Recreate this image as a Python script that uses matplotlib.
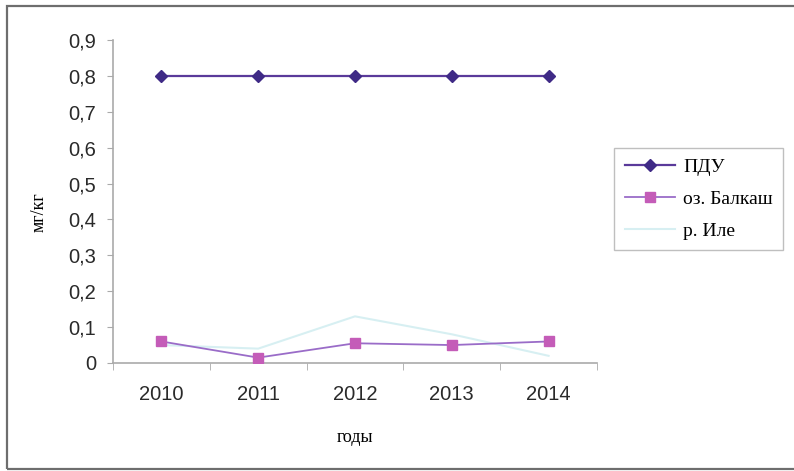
import matplotlib
matplotlib.use("Agg")
import matplotlib.pyplot as plt
from matplotlib.patches import Rectangle

years = ["2010", "2011", "2012", "2013", "2014"]
pdu = [0.8, 0.8, 0.8, 0.8, 0.8]
balkhash = [0.06, 0.015, 0.055, 0.05, 0.06]
ile = [0.05, 0.04, 0.13, 0.08, 0.02]
yticks = [0, 0.1, 0.2, 0.3, 0.4, 0.5, 0.6, 0.7, 0.8, 0.9]
ytick_labels = ["0", "0,1", "0,2", "0,3", "0,4", "0,5", "0,6", "0,7", "0,8", "0,9"]

W, H = 794, 471
fig = plt.figure(figsize=(W / 100, H / 100), dpi=100)
fig.patch.set_facecolor("white")

# outer chart border
fig.patches.append(Rectangle((7 / W, 2 / H), 1.0, 1 - 8 / H, transform=fig.transFigure,
                             fill=False, edgecolor="#6e6e6e", linewidth=1.6))

ax = fig.add_axes([113 / W, 1 - 363 / H, (597 - 113) / W, (363 - 40) / H])
x = list(range(len(years)))

ax.plot(x, ile, color="#cdecef", linewidth=1.5, alpha=0.8, label="р. Иле", zorder=2)
ax.plot(x, pdu, color="#5a3a9a", linewidth=1.6, marker="D", markersize=6,
        markerfacecolor="#3f2a86", markeredgecolor="#3f2a86", label="ПДУ", zorder=3)
ax.plot(x, balkhash, color="#9a6cc8", linewidth=1.3, marker="s", markersize=7,
        markerfacecolor="#c45cb8", markeredgecolor="#c45cb8", label="оз. Балкаш", zorder=3)

ax.set_xlim(-0.5, len(years) - 0.5)
ax.set_ylim(0, 0.9)
ax.set_yticks(yticks)
ax.set_yticklabels(ytick_labels, fontfamily="Liberation Sans", fontsize=14.5, color="#2a2a2a")
ax.set_xticks(x)
ax.set_xticklabels(years, fontfamily="Liberation Sans", fontsize=14.5, color="#2a2a2a")
ax.tick_params(axis="x", length=0, pad=16)
ax.tick_params(axis="y", length=4, color="#aaaaaa", pad=8)
ax.set_xticks([i - 0.5 for i in range(len(years) + 1)], minor=True)
ax.tick_params(axis="x", which="minor", length=5, color="#aaaaaa", direction="out")

for s in ["top", "right"]:
    ax.spines[s].set_visible(False)
for s in ["left", "bottom"]:
    ax.spines[s].set_color("#aaaaaa")
    ax.spines[s].set_linewidth(1.2)

ax.set_xlabel("годы", fontfamily="Liberation Serif", fontsize=13, labelpad=18)
fig.text(39 / W, 1 - 212 / H, "мг/кг", rotation=90, ha="center", va="center",
         fontfamily="Liberation Serif", fontsize=13)

handles, labels = ax.get_legend_handles_labels()
order = [1, 2, 0]
leg = fig.legend([handles[i] for i in order], [labels[i] for i in order],
                 loc="upper left", bbox_to_anchor=(614 / W, 1 - 148 / H),
                 borderaxespad=0,
                 prop={"family": "Liberation Serif", "size": 14},
                 frameon=True, fancybox=False, edgecolor="#b0b0b0",
                 handlelength=2.6, handletextpad=0.4, labelspacing=0.72,
                 borderpad=0.55)
leg.get_frame().set_linewidth(1.0)

fig.savefig("out.png", dpi=100, facecolor="white")
